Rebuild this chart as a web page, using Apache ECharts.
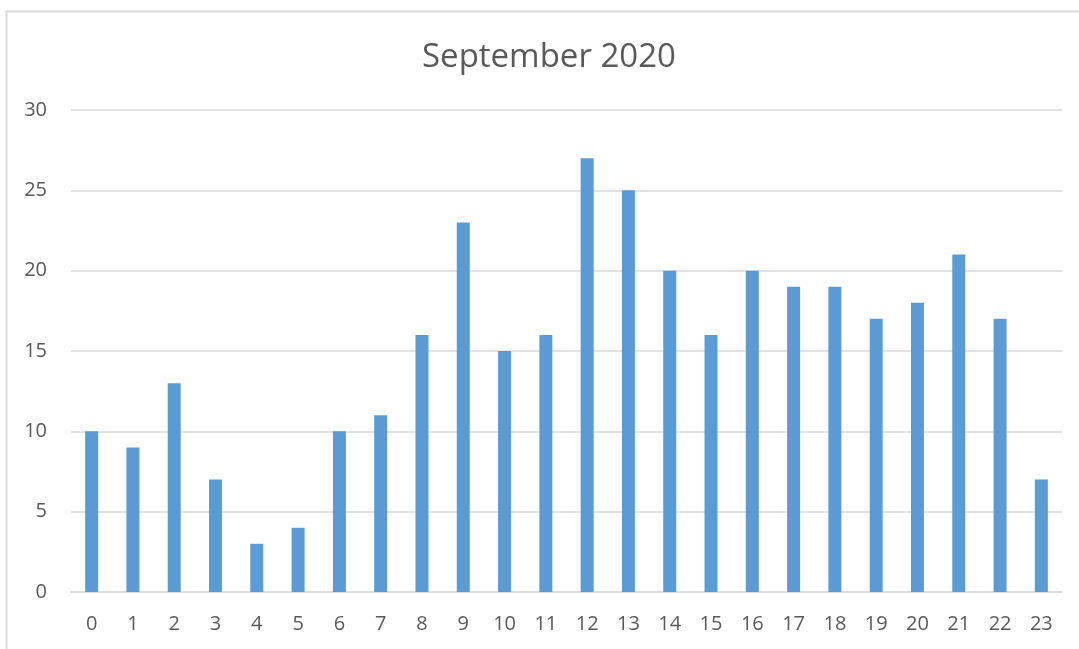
<!DOCTYPE html>
<html><head><meta charset="utf-8">
<script src="https://cdn.jsdelivr.net/npm/echarts@6/dist/echarts.min.js"></script>
<style>html,body{margin:0;padding:0;background:#fff}#c{width:1079px;height:649px}</style>
</head><body><div id="c"></div>
<script>
const categories = ['0','1','2','3','4','5','6','7','8','9','10','11','12','13','14','15','16','17','18','19','20','21','22','23'];
const values = [10,9,13,7,3,4,10,11,16,23,15,16,27,25,20,16,20,19,19,17,18,21,17,7];
const title = 'September 2020';
const chart = echarts.init(document.getElementById('c'), null, {renderer:'canvas'});
chart.setOption({
  animation:false,
  backgroundColor:'#fff',
  graphic:[{type:'rect', shape:{x:6.5,y:11.5,width:1100,height:700}, style:{fill:'none',stroke:'#d9d9d9',lineWidth:2}, silent:true}],
  title:{text:title,left:422,top:41,padding:0,textStyle:{fontFamily:'Open Sans, sans-serif',fontSize:33,fontWeight:'normal',color:'#595959'}},
  grid:{left:71,right:17,top:110,bottom:57},
  xAxis:{type:'category',data:categories,axisTick:{show:false},
    axisLine:{lineStyle:{color:'#d9d9d9',width:1.5}},
    axisLabel:{color:'#595959',fontSize:20,fontFamily:'Open Sans, sans-serif',margin:22}},
  yAxis:{type:'value',min:0,max:30,interval:5,
    axisLabel:{color:'#595959',fontSize:20,fontFamily:'Open Sans, sans-serif',margin:24},
    splitLine:{lineStyle:{color:'#d9d9d9',width:1.5}}},
  series:[{type:'bar',data:values,barWidth:13,itemStyle:{color:'#5B9BD5'}}]
});
</script></body></html>
